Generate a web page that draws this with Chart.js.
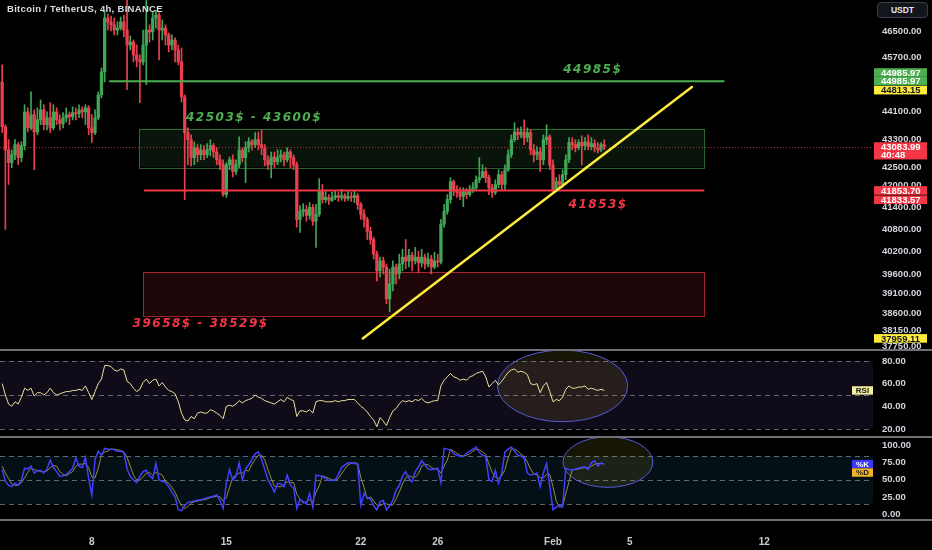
<!DOCTYPE html>
<html>
<head>
<meta charset="utf-8">
<title>Bitcoin / TetherUS, 4h, BINANCE</title>
<script src="https://cdn.jsdelivr.net/npm/chart.js@4.4.1/dist/chart.umd.min.js"></script>
<style>
  html, body { margin:0; padding:0; background:#000; }
  #stage { position:relative; width:932px; height:550px; background:#000; overflow:hidden; }
  #stage canvas { position:absolute; left:0; }
  #cPrice { top:0; }
  #cRsi { top:351px; }
  #cStoch { top:438px; }
  .sep { position:absolute; left:0; width:932px; height:2px; background:#6e7077; z-index:2; }
  #title { position:absolute; left:7px; top:3px; font:bold 9.5px 'Liberation Sans', Arial, sans-serif; color:#d8dbe2; letter-spacing:0.3px; z-index:3; white-space:nowrap; }
  #unit { position:absolute; left:877px; top:2px; width:49px; height:14px; border:1px solid #3a3e48; border-radius:4px; background:#12151c; color:#e6e8ee; font:bold 8.5px 'Liberation Sans', Arial, sans-serif; line-height:14px; text-align:center; z-index:3; }
</style>
</head>
<body>
<div id="stage">
  <canvas id="cPrice" width="932" height="349"></canvas>
  <canvas id="cRsi" width="932" height="85"></canvas>
  <canvas id="cStoch" width="932" height="112"></canvas>
  <div class="sep" style="top:349px"></div>
  <div class="sep" style="top:436px"></div>
  <div class="sep" style="top:519px"></div>
  <div id="title">Bitcoin / TetherUS, 4h, BINANCE</div>
  <div id="unit">USDT</div>
</div>
<script>
// ================= DATA =================
// time axis: days counted in January (Feb 1 = 32); 4h candles from 3 Jan 08:00
const firstCandleDay = 3 + 8 / 24;
const candleStepDays = 4 / 24;

const opens = [44960,43650,42990,42630,42850,43140,42770,43110,44080,43620,
44000,43500,43850,44140,43710,43910,43620,44080,43850,43740,
43910,44000,43940,44060,44030,44140,44080,44200,43620,43480,
43910,44580,45260,46900,46780,46690,46530,46590,46780,46530,
46070,46160,45770,45620,45560,46070,46530,46470,46900,46990,
46530,46590,46380,46070,46225,45920,45560,44520,43480,43280,
42770,43050,42850,42990,42850,42990,43110,42930,42710,42570,
41740,42570,42710,42380,42570,42990,42770,43050,43220,43140,
43280,43140,43050,42710,42570,42790,42650,42770,42850,42710,
42930,42770,42570,41060,41280,41330,41170,41390,41010,41200,
41820,41600,41660,41580,41660,41710,41660,41710,41630,41690,
41660,41710,41470,41200,41060,40740,40520,40130,39690,39950,
39790,38960,39350,39790,39610,39870,40050,39950,40100,39950,
40050,39900,40050,39870,40000,39790,39950,39920,40930,41280,
41600,42100,41880,41800,41690,41820,41740,41880,41930,42150,
42210,42380,42210,41930,41800,42020,42290,42020,42430,42850,
43280,43500,43420,43500,43340,43480,42990,42850,42930,42710,
43280,43360,42570,41880,42100,42020,42290,42710,43200,43140,
43050,43200,43110,43220,43080,43170,43050,42990,43140];

const highs = [45470,43710,43280,42990,43280,43200,43220,44290,44200,44670,
44140,44200,44430,44290,44080,44350,44290,44200,44000,44060,
44200,44080,44230,44200,44290,44230,44290,44260,44000,44140,
44670,45380,47090,47020,46960,46900,46780,46930,46990,47460,
46350,46225,46070,45770,46530,47460,46690,47090,47150,47060,
46840,46690,46440,46380,46290,46070,45980,44580,43620,43420,
43220,43140,43140,43110,43170,43280,43170,43050,42850,42710,
42630,42790,42850,42710,43360,43050,43220,43340,43280,43480,
43500,43560,43140,42820,42930,42930,42990,42990,42930,43050,
42990,42850,42650,41440,41490,41440,41520,41470,41470,42180,
42020,41820,41740,41800,41850,41800,41880,41770,41820,41800,
41850,41770,41520,41330,41120,40850,40580,40210,40050,40050,
39870,39740,39950,39870,40130,40260,40520,40260,40180,40310,
40210,40260,40130,40160,40100,40180,40130,41060,41470,41740,
42210,42150,41990,41930,41930,41910,41990,42070,42260,42770,
42570,42490,42290,42020,42150,42430,42380,42570,42990,43420,
43770,43620,43650,43850,43620,43560,43140,43080,43050,43420,
43710,43420,42710,42210,42290,42430,42850,43340,43340,43280,
43280,43390,43340,43420,43340,43280,43200,43200,43280];

const lows = [43480,40790,42020,42490,42710,42570,42650,42990,43500,43560,
42430,43420,43710,43560,43560,43480,43560,43710,43560,43620,
43790,43710,43850,43850,43910,43910,43710,43420,43200,43420,
43850,44490,44960,46530,46500,46380,46380,46530,46320,44730,
45920,45560,45410,44350,45470,44880,46160,46225,46590,45620,
46225,46070,45860,45920,45560,45470,44370,41600,42570,42540,
42570,42650,42710,42710,42770,42820,42770,42570,42430,41690,
41660,42430,42230,42290,42490,42650,42070,42930,42990,43050,
42990,42850,42540,42430,42200,42490,42570,42650,42540,42650,
42490,42430,40850,40710,41140,41010,41060,40900,40310,41140,
41500,41520,41470,41550,41600,41550,41580,41550,41580,41550,
41520,41330,41060,40850,40520,40390,40000,39430,39530,39610,
38840,38630,39170,39350,39480,39690,39740,39790,39690,39870,
39640,39790,39740,39790,39610,39740,39790,39870,40850,41200,
41500,41710,41660,41600,41410,41630,41690,41800,41880,42070,
42210,42070,41740,41660,41740,41930,41880,41880,42380,42770,
43220,43280,43340,43140,43220,42850,42650,42710,42380,42570,
43140,42430,41820,41880,41930,41930,42150,42630,42990,42930,
42990,42570,42990,42990,42990,42930,42900,42930,42990];

const closes = [43650,42990,42630,42850,43140,42770,43110,44080,43620,44000,
43500,43850,44140,43710,43910,43620,44080,43850,43740,43910,
44000,43940,44060,44030,44140,44080,44200,43620,43480,43910,
44580,45260,46900,46780,46690,46530,46590,46780,46530,46070,
46160,45770,45620,45560,46070,46530,46470,46900,46990,46530,
46590,46380,46070,46225,45920,45560,44520,43480,43280,42770,
43050,42850,42990,42850,42990,43110,42930,42710,42570,41740,
42570,42710,42380,42570,42990,42770,43050,43220,43140,43280,
43140,43050,42710,42570,42790,42650,42770,42850,42710,42930,
42770,42570,41060,41280,41330,41170,41390,41010,41200,41820,
41600,41660,41580,41660,41710,41660,41710,41630,41690,41660,
41710,41470,41200,41060,40740,40520,40130,39690,39950,39790,
38960,39350,39790,39610,39870,40050,39950,40100,39950,40050,
39900,40050,39870,40000,39790,39950,39920,40930,41280,41600,
42100,41880,41800,41690,41820,41740,41880,41930,42150,42210,
42380,42210,41930,41800,42020,42290,42020,42430,42850,43280,
43500,43420,43500,43340,43480,42990,42850,42930,42710,43280,
43360,42570,41880,42100,42020,42290,42710,43200,43140,43050,
43200,43110,43220,43080,43170,43050,42990,43140,43083.99];

const rsi = [60,50,42,40,44,42,48,56,54,56,
49,52,52,50,52,56,52,50,51,52,
53,53,54,54,55,54,58,52,46,53,
60,64,76,76,75,72,71,73,72,62,
60,56,53,55,61,64,60,63,64,58,
61,57,54,53,51,44,34,28,27,31,
29,34,35,34,34,37,36,34,32,29,
40,41,40,42,45,43,45,46,47,50,
48,47,45,44,43,42,44,46,44,48,
46,45,31,36,36,35,37,34,44,45,
45,44,44,44,45,44,45,45,46,46,
46,43,40,38,35,31,28,22,30,27,
23,30,36,38,42,45,44,45,44,46,
45,47,44,43,44,45,45,58,63,66,
69,66,65,63,64,63,66,67,69,70,
71,66,57,60,63,59,62,66,70,72,
73,70,71,70,68,60,59,60,52,58,
61,53,44,46,45,48,55,58,56,56,
57,57,58,55,56,55,54,55,54];

const stochK = [65,48,42,40,45,42,50,67,66,70,
60,63,64,60,66,79,68,62,55,56,
58,62,67,82,70,68,83,52,28,80,
92,86,96,95,95,94,92,92,90,66,
55,50,46,55,62,64,56,52,74,50,
48,46,40,32,25,6,5,12,17,18,
19,20,21,22,24,25,26,28,20,8,
45,65,50,55,75,50,66,72,80,88,
91,80,65,50,42,32,45,44,40,57,
42,38,8,21,18,15,30,10,57,56,
55,52,49,49,50,58,68,72,75,75,
74,73,13,30,24,22,12,6,18,20,
6,12,20,35,42,55,62,52,47,62,
69,78,72,66,65,66,67,46,96,95,
94,88,86,85,84,89,92,95,98,90,
86,84,50,48,64,45,60,91,95,98,
92,86,85,82,60,57,58,60,40,60,
74,40,6,10,13,10,67,65,64,66,
67,68,69,65,75,78,70,75,73];

const stochD = [70,60,52,44,42,42,46,53,61,67,
65,64,62,62,63,68,71,70,62,58,
56,59,62,70,73,73,74,68,54,53,
67,86,91,92,95,95,94,93,91,83,
70,57,50,50,54,60,61,57,61,59,
57,48,45,39,32,21,12,8,11,16,
18,19,20,21,22,24,25,26,25,19,
24,39,53,57,60,60,64,63,73,80,
86,86,79,65,52,41,40,40,43,47,
46,46,29,22,16,18,21,18,32,41,
56,54,52,50,49,52,59,66,72,74,
75,74,53,39,22,25,19,13,12,15,
15,13,13,22,32,44,53,56,54,54,
59,70,73,72,68,66,66,60,70,79,
95,92,89,86,85,86,88,92,95,94,
91,87,73,61,54,52,56,65,82,95,
95,92,88,84,76,66,58,58,53,53,
58,58,40,19,10,11,30,47,65,65,
66,67,68,67,70,73,74,74,73];

const dayTicks = [8, 15, 22, 26, 32, 36, 43];
const dayTickLabels = ['8', '15', '22', '26', 'Feb', '5', '12'];
const priceTicks = [46500, 45700, 44100, 43300, 42500, 42000, 41400, 40800, 40200, 39600, 39100, 38600, 38150, 37750];
const rsiTicks = [20, 40, 60, 80];
const stochTicks = [0, 25, 50, 75, 100];
const rsiBands = [80, 50, 20];
const stochBands = [85, 50, 15];

// ================= DRAWINGS (in data units) =================
const zones = [
  { fromDay: 10.46, toDay: 39.875, high: 43600, low: 42503, fill: 'rgba(76,175,80,0.12)', stroke: 'rgba(76,175,80,0.55)' },
  { fromDay: 10.67, toDay: 39.875, high: 39658, low: 38529, fill: 'rgba(242,54,69,0.13)', stroke: 'rgba(242,54,69,0.65)' }
];
const levels = [
  { price: 44985, fromDay: 8.90, toDay: 40.92, color: '#4caf50' },
  { price: 41853, fromDay: 10.72, toDay: 39.875, color: '#f23645' }
];
const trend = { fromDay: 22.10, fromPrice: 37959.11, toDay: 39.23, toPrice: 44813.15, color: '#ffeb3b' };
const notes = [
  { text: '44985$', day: 34.07, price: 45320, color: '#4caf50' },
  { text: '42503$ - 43600$', day: 16.44, price: 43910, color: '#4caf50' },
  { text: '41853$', day: 34.35, price: 41470, color: '#f23645' },
  { text: '39658$ - 38529$', day: 13.66, price: 38330, color: '#f23645' }
];
const axisTags = [
  { price: 44985.97, lines: ['44985.97'], bg: '#4caf50', fg: '#ffffff', shift: -1 },
  { price: 44985.97, lines: ['44985.97'], bg: '#4caf50', fg: '#ffffff', shift: 0 },
  { price: 44813.15, lines: ['44813.15'], bg: '#ffeb3b', fg: '#131722', shift: 0.37 },
  { price: 43083.99, lines: ['43083.99', '40:48'], bg: '#f23645', fg: '#ffffff', shift: 0 },
  { price: 41853.70, lines: ['41853.70'], bg: '#f23645', fg: '#ffffff', shift: 0 },
  { price: 41833.57, lines: ['41833.57'], bg: '#f23645', fg: '#ffffff', shift: 1 },
  { price: 37959.11, lines: ['37959.11'], bg: '#ffeb3b', fg: '#131722', shift: 0 }
];
const rsiCircle = { day: 32.5, value: 58, halfDays: 3.39, halfRange: 31.6 };
const stochCircle = { day: 34.86, value: 76, halfDays: 2.34, halfRange: 37 };

// ================= VIEW / STYLE =================
const view = { dayMin: 3.22, dayMax: 48.655, priceMin: 37694, priceMax: 47461 };
const AXIS_W = 59;
const FONT = "'Liberation Sans', Arial, sans-serif";
const upColor = '#3ea857', downColor = '#e8404f';
const tickFont = { family: FONT, size: 9.5, weight: 'bold' };
const tickColor = '#d1d4dc';

const candleTime = i => firstCandleDay + i * candleStepDays;
const candleColors = closes.map((c, i) => (c >= opens[i] ? upColor : downColor));

function fixY(scale) { scale.width = AXIS_W; scale.paddingTop = 0; scale.paddingBottom = 0; }
function xScale(show) {
  return {
    type: 'linear', min: view.dayMin, max: view.dayMax, offset: false, display: show,
    grid: { display: false, drawTicks: false }, border: { display: false },
    afterBuildTicks: s => { s.ticks = dayTicks.map(v => ({ value: v })); },
    afterFit: s => { if (show) { s.height = 30; } s.paddingLeft = 0; s.paddingRight = 0; },
    ticks: {
      autoSkip: false, maxRotation: 0, padding: 16, color: '#c9cbd2',
      font: { family: FONT, size: 10, weight: 'bold' },
      callback: v => { const k = dayTicks.indexOf(v); return k >= 0 ? dayTickLabels[k] : ''; }
    }
  };
}
function yScale(extra, ticksList) {
  return Object.assign({
    position: 'right', beginAtZero: false,
    grid: { display: false, drawTicks: false }, border: { display: false },
    afterBuildTicks: s => { s.ticks = ticksList.map(v => ({ value: v })); },
    afterFit: fixY,
    ticks: { autoSkip: false, padding: 9, color: tickColor, font: tickFont, callback: v => Number(v).toFixed(2) }
  }, extra);
}
const baseOptions = () => ({
  responsive: false, animation: false, events: [],
  layout: { padding: 0 },
  plugins: { legend: { display: false }, tooltip: { enabled: false } }
});

function drawTag(ctx, left, width, yc, rowH, lines, bg, fg, fontPx, align) {
  ctx.fillStyle = bg;
  ctx.fillRect(left, yc - rowH / 2, width, rowH * lines.length);
  ctx.fillStyle = fg;
  ctx.font = 'bold ' + fontPx + 'px ' + FONT;
  ctx.textBaseline = 'middle';
  ctx.textAlign = align;
  const tx = align === 'center' ? left + width / 2 : left + 7;
  lines.forEach((s, k) => ctx.fillText(s, tx, yc + k * rowH + 0.5));
}

// ================= PRICE PANEL =================
const priceOverlay = {
  id: 'priceOverlay',
  beforeDatasetsDraw(chart) {
    const { ctx, chartArea: a, scales: { x, y } } = chart;
    ctx.save();
    ctx.beginPath(); ctx.rect(a.left, a.top, a.right - a.left, a.bottom - a.top); ctx.clip();
    zones.forEach(z => {
      const x1 = x.getPixelForValue(z.fromDay), x2 = x.getPixelForValue(z.toDay);
      const y1 = y.getPixelForValue(z.high), y2 = y.getPixelForValue(z.low);
      ctx.fillStyle = z.fill; ctx.fillRect(x1, y1, x2 - x1, y2 - y1);
      ctx.strokeStyle = z.stroke; ctx.lineWidth = 1;
      ctx.strokeRect(Math.round(x1) + 0.5, Math.round(y1) + 0.5, Math.round(x2 - x1), Math.round(y2 - y1));
    });
    ctx.restore();
  },
  afterDatasetsDraw(chart) {
    const { ctx, chartArea: a, scales: { x, y } } = chart;
    ctx.save();
    // last price dotted line
    const yl = Math.round(y.getPixelForValue(closes[closes.length - 1])) + 0.5;
    ctx.setLineDash([1, 2]); ctx.strokeStyle = 'rgba(242,54,69,0.75)'; ctx.lineWidth = 1;
    ctx.beginPath(); ctx.moveTo(a.left, yl); ctx.lineTo(a.right, yl); ctx.stroke();
    ctx.setLineDash([]);
    // horizontal levels
    levels.forEach(l => {
      const yy = y.getPixelForValue(l.price);
      ctx.strokeStyle = l.color; ctx.lineWidth = 2;
      ctx.beginPath(); ctx.moveTo(x.getPixelForValue(l.fromDay), yy); ctx.lineTo(x.getPixelForValue(l.toDay), yy); ctx.stroke();
    });
    // trend line
    ctx.strokeStyle = trend.color; ctx.lineWidth = 2.5; ctx.lineCap = 'round';
    ctx.beginPath();
    ctx.moveTo(x.getPixelForValue(trend.fromDay), y.getPixelForValue(trend.fromPrice));
    ctx.lineTo(x.getPixelForValue(trend.toDay), y.getPixelForValue(trend.toPrice));
    ctx.stroke();
    // text notes
    ctx.font = "italic bold 12px 'DejaVu Sans', sans-serif";
    try { ctx.letterSpacing = '1.5px'; } catch (e) {}
    ctx.textAlign = 'center'; ctx.textBaseline = 'middle';
    notes.forEach(n => {
      ctx.fillStyle = n.color;
      ctx.fillText(n.text, x.getPixelForValue(n.day), y.getPixelForValue(n.price));
    });
    try { ctx.letterSpacing = '0px'; } catch (e) {}
    ctx.restore();
  },
  afterDraw(chart) {
    const { ctx, chartArea: a, scales: { y } } = chart;
    ctx.save();
    const rowH = 8.6;
    axisTags.forEach(t => {
      const yc = y.getPixelForValue(t.price) + t.shift * rowH;
      drawTag(ctx, a.right + 1, 53, yc, rowH, t.lines, t.bg, t.fg, 9.5, 'left');
    });
    ctx.restore();
  }
};

new Chart(document.getElementById('cPrice'), {
  type: 'bar',
  data: {
    datasets: [
      {
        label: 'wick', order: 2, grouped: false, barThickness: 1,
        data: highs.map((h, i) => ({ x: candleTime(i), y: [lows[i], h] })),
        backgroundColor: candleColors
      },
      {
        label: 'body', order: 1, grouped: false, barThickness: 2.6, minBarLength: 1,
        data: opens.map((o, i) => ({ x: candleTime(i), y: [o, closes[i]] })),
        backgroundColor: candleColors
      }
    ]
  },
  options: Object.assign(baseOptions(), {
    scales: {
      x: xScale(false),
      y: yScale({ type: 'logarithmic', min: view.priceMin, max: view.priceMax }, priceTicks)
    }
  }),
  plugins: [priceOverlay]
});

// ================= OSCILLATOR PANELS =================
function oscOverlay(id, bands, bandFill, circle, tags) {
  return {
    id,
    beforeDatasetsDraw(chart) {
      const { ctx, chartArea: a, scales: { x, y } } = chart;
      ctx.save();
      const yTop = y.getPixelForValue(bands[0]), yBot = y.getPixelForValue(bands[bands.length - 1]);
      ctx.fillStyle = bandFill; ctx.fillRect(a.left, yTop, a.right - a.left, yBot - yTop);
      ctx.setLineDash([5, 4]); ctx.strokeStyle = 'rgba(130,133,144,0.75)'; ctx.lineWidth = 1;
      bands.forEach(b => {
        const yy = Math.round(y.getPixelForValue(b)) + 0.5;
        ctx.beginPath(); ctx.moveTo(a.left, yy); ctx.lineTo(a.right, yy); ctx.stroke();
      });
      ctx.setLineDash([]);
      const cx = x.getPixelForValue(circle.day), cy = y.getPixelForValue(circle.value);
      const rx = Math.abs(x.getPixelForValue(circle.day + circle.halfDays) - cx);
      const ry = Math.abs(y.getPixelForValue(circle.value + circle.halfRange) - cy);
      ctx.beginPath(); ctx.ellipse(cx, cy, rx, ry, 0, 0, Math.PI * 2);
      ctx.fillStyle = 'rgba(230,210,60,0.10)'; ctx.fill();
      ctx.strokeStyle = '#5659d4'; ctx.lineWidth = 1; ctx.stroke();
      ctx.restore();
    },
    afterDraw(chart) {
      const { ctx, chartArea: a, scales: { y } } = chart;
      ctx.save();
      const rowH = 8.4;
      tags.forEach(t => {
        const yc = y.getPixelForValue(t.value) + t.shift * rowH;
        drawTag(ctx, a.right - 21, 21, yc, rowH, [t.text], t.bg, t.fg, 8, 'center');
      });
      ctx.restore();
    }
  };
}

new Chart(document.getElementById('cRsi'), {
  type: 'line',
  data: {
    datasets: [{
      label: 'RSI', data: rsi.map((v, i) => ({ x: candleTime(i), y: v })),
      borderColor: '#e8e09a', borderWidth: 1, pointRadius: 0, tension: 0
    }]
  },
  options: Object.assign(baseOptions(), {
    scales: {
      x: xScale(false),
      y: yScale({ type: 'linear', min: 13.8, max: 88.8 }, rsiTicks)
    }
  }),
  plugins: [oscOverlay('rsiOverlay', rsiBands, 'rgba(126,87,194,0.13)', rsiCircle,
    [{ value: rsi[rsi.length - 1], text: 'RSI', bg: '#f2ee9c', fg: '#1a1a1a', shift: 0 }])]
});

new Chart(document.getElementById('cStoch'), {
  type: 'line',
  data: {
    datasets: [
      { label: '%D', order: 2, data: stochD.map((v, i) => ({ x: candleTime(i), y: v })),
        borderColor: '#9a8a3e', borderWidth: 1, pointRadius: 0, tension: 0 },
      { label: '%K', order: 1, data: stochK.map((v, i) => ({ x: candleTime(i), y: v })),
        borderColor: '#4040ff', borderWidth: 1.5, pointRadius: 0, tension: 0 }
    ]
  },
  options: Object.assign(baseOptions(), {
    scales: {
      x: xScale(true),
      y: yScale({ type: 'linear', min: -8.8, max: 111.3 }, stochTicks)
    }
  }),
  plugins: [oscOverlay('stochOverlay', stochBands, 'rgba(40,120,170,0.13)', stochCircle, [
    { value: stochK[stochK.length - 1], text: '%K', bg: '#3b3bf5', fg: '#ffffff', shift: 0 },
    { value: stochD[stochD.length - 1], text: '%D', bg: '#f0b429', fg: '#1a1a1a', shift: 1 }
  ])]
});
</script>
</body>
</html>
